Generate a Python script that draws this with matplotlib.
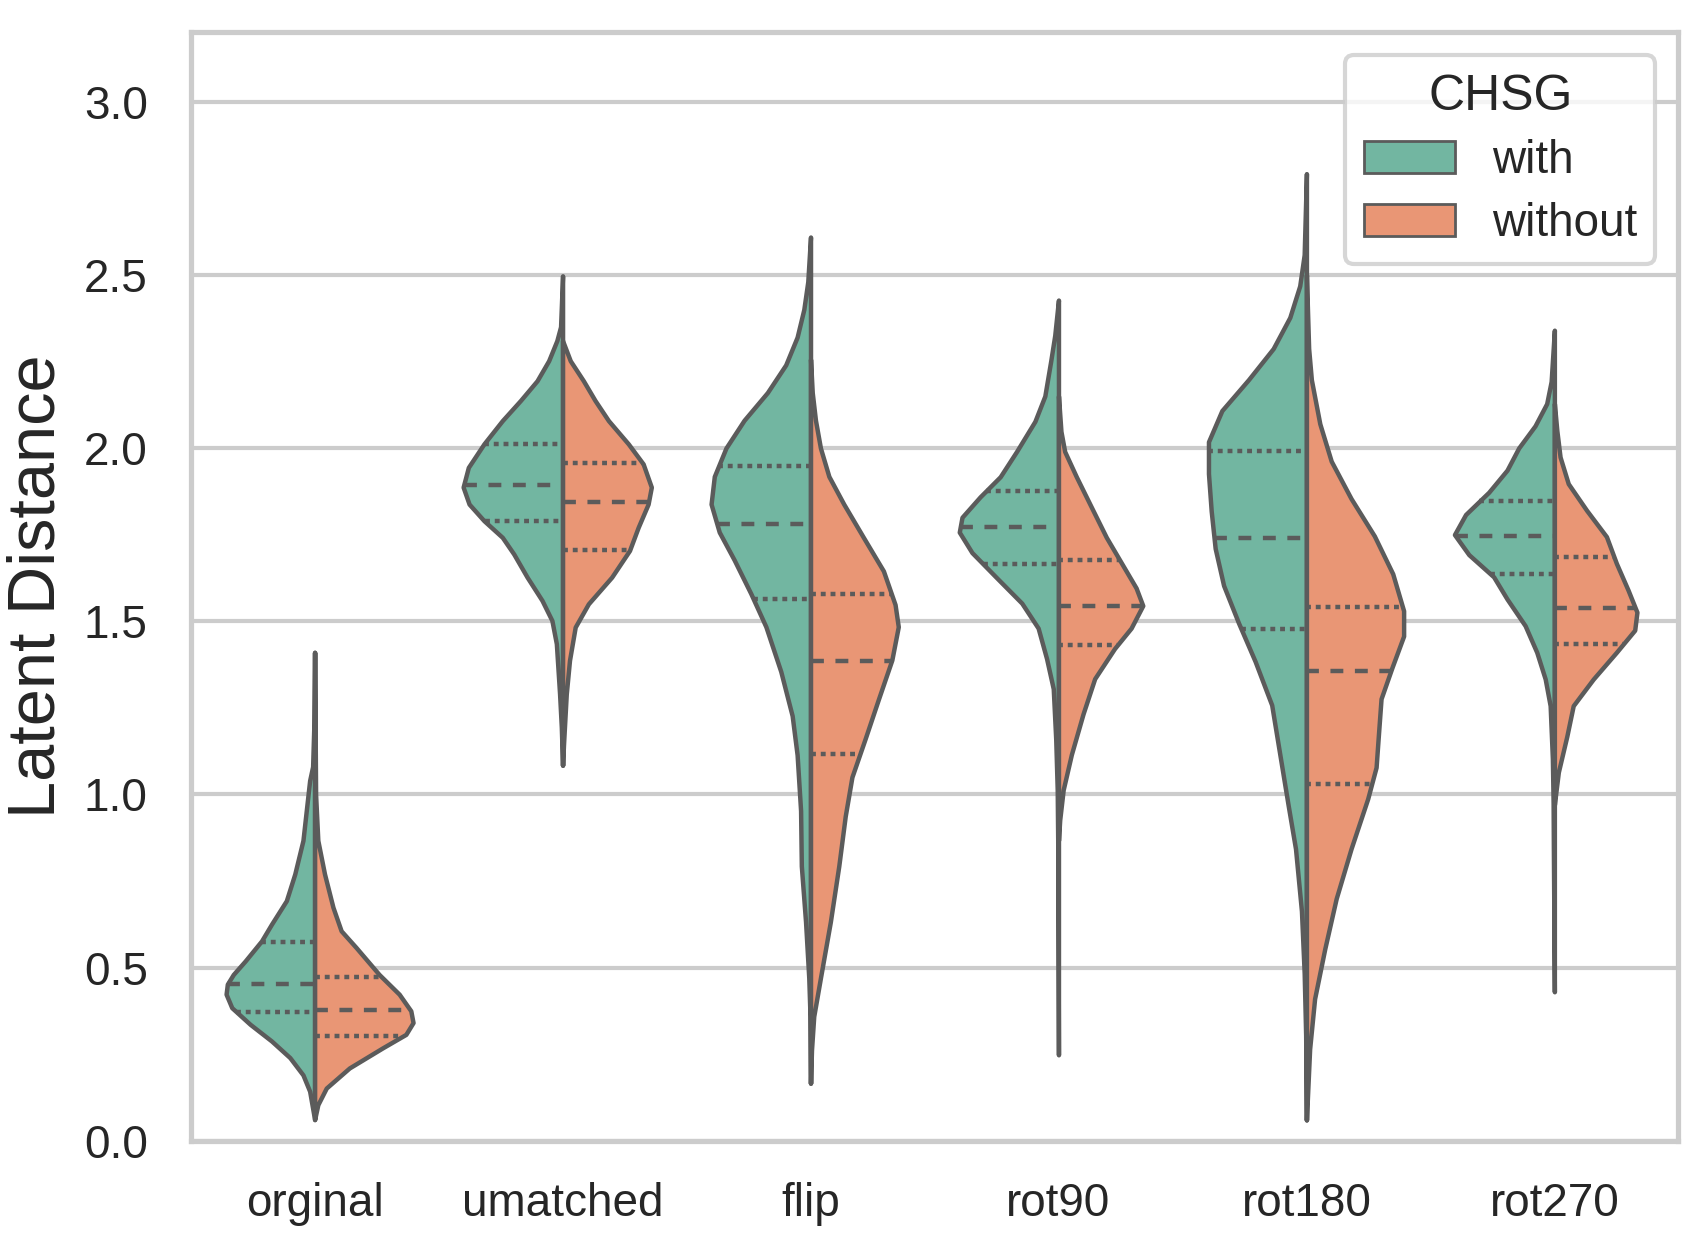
import numpy as np
import matplotlib
matplotlib.use("Agg")
import matplotlib.pyplot as plt
from matplotlib.patches import Patch
import seaborn as sns

# ---------------- data ----------------
categories = ["orginal", "umatched", "flip", "rot90", "rot180", "rot270"]
hue_levels = ["with", "without"]

# half-violin outlines: y values and half-widths (in category units)
orginal_with_y = [1.41, 1.20, 1.08, 1.04, 0.867, 0.77, 0.693, 0.625, 0.577, 0.519, 0.48, 0.452, 0.423, 0.384, 0.336, 0.288, 0.24, 0.19, 0.143, 0.061]
orginal_with_w = [0.0, 0.003, 0.008, 0.02, 0.047, 0.08, 0.114, 0.174, 0.214, 0.28, 0.328, 0.352, 0.357, 0.334, 0.26, 0.174, 0.10, 0.047, 0.02, 0.0]
orginal_without_y = [1.41, 1.0, 0.867, 0.77, 0.674, 0.606, 0.558, 0.48, 0.423, 0.375, 0.341, 0.307, 0.268, 0.21, 0.152, 0.104, 0.061]
orginal_without_w = [0.0, 0.004, 0.013, 0.04, 0.074, 0.107, 0.167, 0.26, 0.341, 0.388, 0.397, 0.368, 0.274, 0.14, 0.047, 0.013, 0.0]

umatched_with_y = [2.497, 2.35, 2.31, 2.252, 2.194, 2.137, 2.079, 2.012, 1.944, 1.887, 1.838, 1.79, 1.742, 1.694, 1.627, 1.56, 1.502, 1.435, 1.29, 1.194, 1.084]
umatched_with_w = [0.0, 0.008, 0.023, 0.056, 0.103, 0.17, 0.243, 0.317, 0.38, 0.401, 0.377, 0.317, 0.243, 0.197, 0.143, 0.083, 0.043, 0.025, 0.012, 0.005, 0.0]
umatched_without_y = [2.31, 2.252, 2.194, 2.137, 2.079, 2.012, 1.954, 1.887, 1.838, 1.771, 1.704, 1.627, 1.55, 1.483, 1.387, 1.29, 1.146, 1.084]
umatched_without_w = [0.0, 0.031, 0.084, 0.131, 0.185, 0.265, 0.325, 0.358, 0.345, 0.305, 0.27, 0.198, 0.104, 0.051, 0.028, 0.015, 0.004, 0.0]

flip_with_y = [2.609, 2.48, 2.40, 2.32, 2.24, 2.16, 2.08, 2.0, 1.918, 1.838, 1.757, 1.677, 1.58, 1.484, 1.355, 1.227, 1.114, 0.953, 0.793, 0.632, 0.47, 0.36, 0.166]
flip_with_w = [0.0, 0.011, 0.027, 0.054, 0.1, 0.174, 0.268, 0.341, 0.388, 0.401, 0.368, 0.308, 0.241, 0.18, 0.12, 0.074, 0.054, 0.04, 0.037, 0.02, 0.007, 0.002, 0.0]
flip_without_y = [2.256, 2.16, 2.08, 2.0, 1.918, 1.838, 1.741, 1.645, 1.548, 1.484, 1.388, 1.275, 1.162, 1.05, 0.937, 0.793, 0.632, 0.47, 0.359, 0.262, 0.166]
flip_without_w = [0.0, 0.007, 0.02, 0.04, 0.074, 0.134, 0.214, 0.294, 0.341, 0.354, 0.328, 0.274, 0.221, 0.167, 0.14, 0.114, 0.08, 0.04, 0.013, 0.004, 0.0]

rot90_with_y = [2.427, 2.325, 2.252, 2.15, 2.077, 1.99, 1.917, 1.859, 1.8, 1.757, 1.698, 1.625, 1.552, 1.48, 1.392, 1.305, 1.159, 1.013, 0.867, 0.248]
rot90_with_w = [0.0, 0.015, 0.031, 0.055, 0.095, 0.169, 0.235, 0.316, 0.389, 0.4, 0.349, 0.249, 0.148, 0.082, 0.048, 0.021, 0.011, 0.005, 0.003, 0.0]
rot90_without_y = [2.15, 2.048, 1.99, 1.917, 1.83, 1.742, 1.669, 1.596, 1.545, 1.48, 1.421, 1.334, 1.232, 1.115, 1.013, 0.926, 0.867]
rot90_without_w = [0.0, 0.01, 0.025, 0.072, 0.132, 0.193, 0.253, 0.313, 0.34, 0.293, 0.226, 0.146, 0.099, 0.052, 0.019, 0.005, 0.0]

rot180_with_y = [2.792, 2.558, 2.468, 2.377, 2.287, 2.197, 2.108, 2.018, 1.926, 1.818, 1.71, 1.603, 1.495, 1.384, 1.258, 1.114, 0.97, 0.843, 0.663, 0.484, 0.304, 0.06]
rot180_with_w = [0.0, 0.009, 0.027, 0.067, 0.134, 0.234, 0.341, 0.395, 0.395, 0.384, 0.368, 0.334, 0.274, 0.207, 0.14, 0.107, 0.074, 0.044, 0.02, 0.009, 0.003, 0.0]
rot180_without_y = [2.5, 2.287, 2.197, 2.07, 1.962, 1.854, 1.746, 1.637, 1.53, 1.457, 1.366, 1.276, 1.168, 1.078, 0.987, 0.843, 0.699, 0.554, 0.41, 0.265, 0.06]
rot180_without_w = [0.0, 0.009, 0.02, 0.054, 0.1, 0.18, 0.274, 0.348, 0.392, 0.392, 0.345, 0.301, 0.29, 0.281, 0.247, 0.18, 0.12, 0.074, 0.033, 0.013, 0.0]

rot270_with_y = [2.34, 2.192, 2.128, 2.064, 2.0, 1.936, 1.872, 1.808, 1.75, 1.692, 1.628, 1.564, 1.487, 1.41, 1.333, 1.256, 1.103, 0.974, 0.846, 0.43]
rot270_with_w = [0.0, 0.013, 0.031, 0.078, 0.144, 0.191, 0.265, 0.358, 0.403, 0.345, 0.245, 0.191, 0.118, 0.071, 0.037, 0.017, 0.008, 0.005, 0.004, 0.0]
rot270_without_y = [2.128, 2.05, 1.974, 1.897, 1.82, 1.744, 1.667, 1.59, 1.526, 1.474, 1.41, 1.333, 1.256, 1.167, 1.064, 1.0, 0.97]
rot270_without_w = [0.0, 0.01, 0.023, 0.056, 0.13, 0.21, 0.25, 0.297, 0.333, 0.324, 0.25, 0.157, 0.076, 0.05, 0.016, 0.005, 0.0]

# quartiles per category
with_q3 = [0.575, 2.012, 1.947, 1.876, 1.99, 1.846]
with_median = [0.452, 1.893, 1.781, 1.771, 1.74, 1.746]
with_q1 = [0.372, 1.788, 1.564, 1.665, 1.478, 1.637]
without_q3 = [0.474, 1.957, 1.577, 1.676, 1.542, 1.686]
without_median = [0.377, 1.844, 1.384, 1.545, 1.357, 1.538]
without_q1 = [0.302, 1.704, 1.117, 1.43, 1.029, 1.433]

y_ticks = [0.0, 0.5, 1.0, 1.5, 2.0, 2.5, 3.0]

# ---------------- styling ----------------
sns.set_theme(context="talk", style="whitegrid")
plt.rcParams["font.family"] = ["Liberation Sans", "DejaVu Sans"]

base = sns.color_palette("Set2", 2)
colors = [sns.desaturate(c, 0.75) for c in base]
edge = "#5b5b5b"
lw = 1.6

outlines_with = [(orginal_with_y, orginal_with_w), (umatched_with_y, umatched_with_w),
                 (flip_with_y, flip_with_w), (rot90_with_y, rot90_with_w),
                 (rot180_with_y, rot180_with_w), (rot270_with_y, rot270_with_w)]
outlines_without = [(orginal_without_y, orginal_without_w), (umatched_without_y, umatched_without_w),
                    (flip_without_y, flip_without_w), (rot90_without_y, rot90_without_w),
                    (rot180_without_y, rot180_without_w), (rot270_without_y, rot270_without_w)]

fig = plt.figure(figsize=(8.51, 6.215), dpi=200)
ax = fig.add_axes([0.1120, 0.0823, 0.9861 - 0.1120, 0.9740 - 0.0823])

def half_width_at(yv, ys, ws):
    ys = np.asarray(ys)
    ws = np.asarray(ws)
    order = np.argsort(ys)
    return float(np.interp(yv, ys[order], ws[order]))

for i, cat in enumerate(categories):
    for side, (outlines, qs, col) in enumerate([
            (outlines_with, (with_q1, with_median, with_q3), colors[0]),
            (outlines_without, (without_q1, without_median, without_q3), colors[1])]):
        ys, ws = outlines[i]
        ys = np.asarray(ys, dtype=float)
        ws = np.asarray(ws, dtype=float)
        sign = -1 if side == 0 else 1
        ax.fill_betweenx(ys, i, i + sign * ws, facecolor=col, edgecolor=edge,
                         linewidth=lw, joinstyle="round", zorder=2)
        for k, q in enumerate(qs):
            qv = q[i]
            w = half_width_at(qv, ys, ws)
            x0, x1 = (i - w, i) if side == 0 else (i, i + w)
            style = (0, (2.9, 2.6)) if k == 1 else (0, (1.1, 1.1))
            ax.plot([x0, x1], [qv, qv], color=edge, linewidth=1.6,
                    linestyle=style, dash_capstyle="butt", zorder=3)

ax.set_xlim(-0.5, len(categories) - 0.5)
ax.set_ylim(0, 3.2)
ax.set_xticks(range(len(categories)))
ax.set_xticklabels(categories)
ax.set_yticks(y_ticks)
ax.set_yticklabels([f"{t:.1f}" for t in y_ticks])
ax.tick_params(axis="x", pad=5.75)
ax.tick_params(axis="y", pad=6.4)
ax.xaxis.grid(False)
ax.set_axisbelow(True)
ax.set_ylabel("Latent Distance", fontsize=24, labelpad=5.5)
ax.set_xlabel("")

handles = [Patch(facecolor=colors[j], edgecolor=edge, linewidth=1.0, label=hue_levels[j])
           for j in range(2)]
ax.legend(handles=handles, title="CHSG", loc="upper right", labelspacing=0.42)

fig.savefig("out.png", dpi=200)
